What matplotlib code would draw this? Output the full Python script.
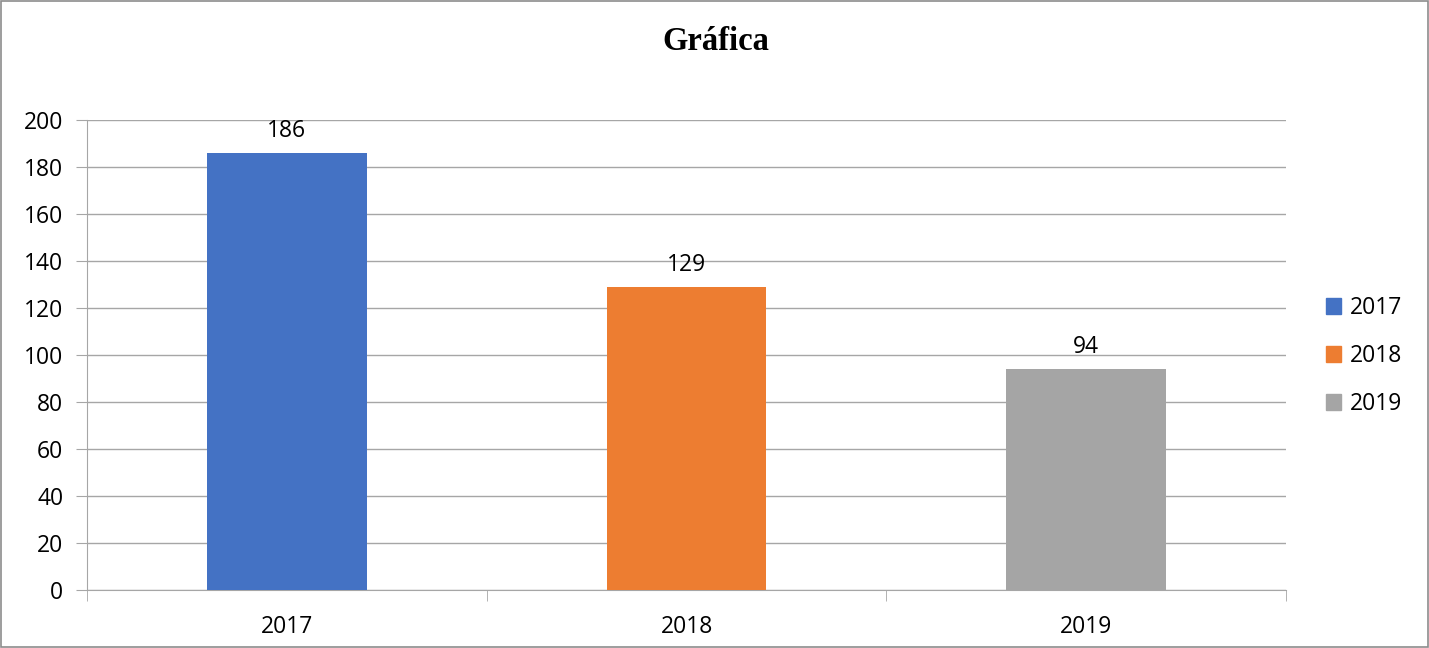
import matplotlib.pyplot as plt
from matplotlib.patches import Rectangle, Patch

# ---------------------------
# Data
# ---------------------------
years = ["2017", "2018", "2019"]
values = [186, 129, 94]
colors = ["#4472C4", "#ED7D31", "#A5A5A5"]
y_ticks = [0, 20, 40, 60, 80, 100, 120, 140, 160, 180, 200]

plt.rcParams["font.family"] = ["Open Sans", "DejaVu Sans"]

W, H = 1429, 648
fig = plt.figure(figsize=(W / 100, H / 100), dpi=100)
ax = fig.add_axes([87 / W, (H - 590) / H, (1286 - 87) / W, (590 - 120) / H])

x = range(len(years))
bars = ax.bar(x, values, width=0.4, color=colors, zorder=3)

for b, v in zip(bars, values):
    ax.annotate(str(v), (b.get_x() + b.get_width() / 2, v),
                xytext=(0, 7), textcoords="offset points",
                ha="center", va="bottom", fontsize=16.5)

grid_c = "#A6A6A6"
ax.set_xlim(-0.5, len(years) - 0.5)
ax.set_ylim(0, 200)
ax.set_yticks(y_ticks)
ax.yaxis.grid(True, color=grid_c, linewidth=1, zorder=0)
ax.tick_params(axis="y", length=8, color=grid_c, labelsize=16.5, pad=9)

ax.set_xticks(list(x))
ax.set_xticklabels(years)
ax.tick_params(axis="x", which="major", length=0, labelsize=16.5, pad=18)
ax.set_xticks([i - 0.5 for i in range(len(years) + 1)], minor=True)
ax.tick_params(axis="x", which="minor", length=8, color=grid_c)

for s in ["top", "right"]:
    ax.spines[s].set_visible(False)
ax.spines["left"].set_color(grid_c)
ax.spines["bottom"].set_color(grid_c)

fig.text(716 / W, 1 - 42 / H, "Gráfica", ha="center", va="center",
         fontsize=23.5, fontweight="bold", family=["Liberation Serif", "DejaVu Serif"])

handles = [Patch(color=c, label=y) for c, y in zip(colors, years)]
fig.legend(handles=handles, loc="center left", bbox_to_anchor=(1305 / W, 1 - 356 / H),
           frameon=False, fontsize=16.5, handlelength=0.65, handleheight=0.65,
           handletextpad=0.4, labelspacing=1.05)

fig.add_artist(Rectangle((0.001, 0.001), 0.998, 0.997, transform=fig.transFigure,
                         fill=False, edgecolor="#8C8C8C", linewidth=1.2))

fig.savefig("out.png", dpi=100)
